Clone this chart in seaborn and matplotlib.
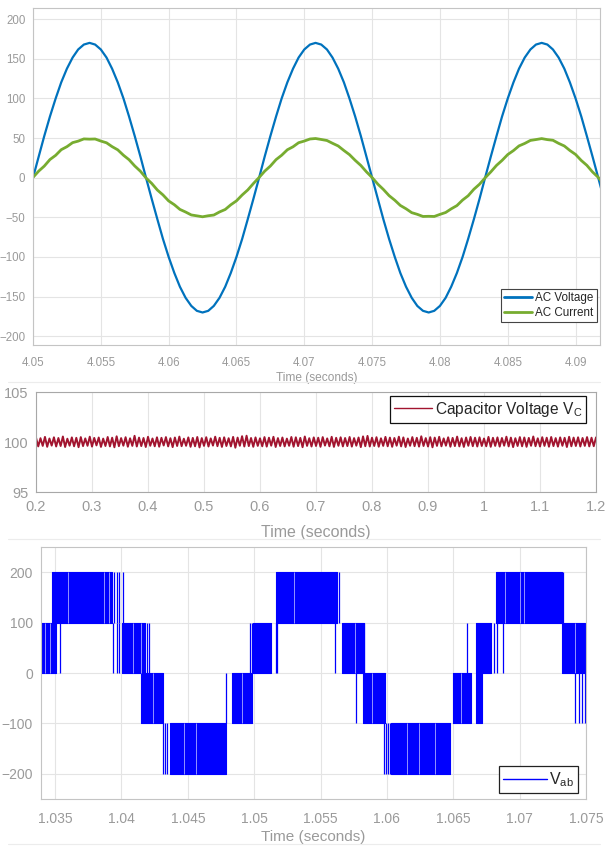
import numpy as np
import pandas as pd
import matplotlib
matplotlib.use("Agg")
import matplotlib.pyplot as plt
from matplotlib.lines import Line2D
import seaborn as sns

# ---------------- data: panel 1 (AC voltage / current) ----------------
ac_time = [
    4.05000, 4.05042, 4.05083, 4.05125, 4.05167, 4.05208, 4.05250, 4.05292, 4.05333, 4.05375,
    4.05417, 4.05458, 4.05500, 4.05542, 4.05583, 4.05625, 4.05667, 4.05708, 4.05750, 4.05792,
    4.05833, 4.05875, 4.05917, 4.05958, 4.06000, 4.06042, 4.06083, 4.06125, 4.06167, 4.06208,
    4.06250, 4.06292, 4.06333, 4.06375, 4.06417, 4.06458, 4.06500, 4.06542, 4.06583, 4.06625,
    4.06667, 4.06708, 4.06750, 4.06792, 4.06833, 4.06875, 4.06917, 4.06958, 4.07000, 4.07042,
    4.07083, 4.07125, 4.07167, 4.07208, 4.07250, 4.07292, 4.07333, 4.07375, 4.07417, 4.07458,
    4.07500, 4.07542, 4.07583, 4.07625, 4.07667, 4.07708, 4.07750, 4.07792, 4.07833, 4.07875,
    4.07917, 4.07958, 4.08000, 4.08042, 4.08083, 4.08125, 4.08167, 4.08208, 4.08250, 4.08292,
    4.08333, 4.08375, 4.08417, 4.08458, 4.08500, 4.08542, 4.08583, 4.08625, 4.08667, 4.08708,
    4.08750, 4.08792, 4.08833, 4.08875, 4.08917, 4.08958, 4.09000, 4.09042, 4.09083, 4.09125,
    4.09167, 4.09208,
]
ac_voltage = [
    0.0, 26.6, 52.5, 77.2, 99.9, 120.2, 137.5, 151.5, 161.7, 167.9,
    170.0, 167.9, 161.7, 151.5, 137.5, 120.2, 99.9, 77.2, 52.5, 26.6,
    0.0, -26.6, -52.5, -77.2, -99.9, -120.2, -137.5, -151.5, -161.7, -167.9,
    -170.0, -167.9, -161.7, -151.5, -137.5, -120.2, -99.9, -77.2, -52.5, -26.6,
    0.0, 26.6, 52.5, 77.2, 99.9, 120.2, 137.5, 151.5, 161.7, 167.9,
    170.0, 167.9, 161.7, 151.5, 137.5, 120.2, 99.9, 77.2, 52.5, 26.6,
    0.0, -26.6, -52.5, -77.2, -99.9, -120.2, -137.5, -151.5, -161.7, -167.9,
    -170.0, -167.9, -161.7, -151.5, -137.5, -120.2, -99.9, -77.2, -52.5, -26.6,
    0.0, 26.6, 52.5, 77.2, 99.9, 120.2, 137.5, 151.5, 161.7, 167.9,
    170.0, 167.9, 161.7, 151.5, 137.5, 120.2, 99.9, 77.2, 52.5, 26.6,
    0.0, -26.6,
]
ac_current = [
    0.4, 8.3, 14.6, 22.9, 28.2, 35.3, 39.1, 44.2, 46.1, 48.9,
    48.6, 48.8, 46.2, 44.0, 39.2, 35.1, 28.3, 22.7, 14.8, 8.1,
    -0.3, -7.2, -15.6, -21.7, -29.3, -34.1, -40.0, -43.3, -47.0, -48.1,
    -49.3, -48.0, -47.1, -43.2, -40.1, -34.2, -29.2, -21.8, -15.5, -7.3,
    0.3, 8.2, 14.7, 22.8, 28.3, 35.2, 39.0, 44.1, 46.2, 48.8,
    49.4, 48.2, 46.9, 43.4, 40.0, 34.3, 29.1, 21.9, 15.4, 7.4,
    0.2, -8.1, -14.8, -22.6, -28.4, -35.0, -39.2, -44.1, -46.2, -48.9,
    -48.7, -48.9, -46.3, -43.9, -39.3, -35.2, -28.2, -22.8, -14.6, -8.2,
    -0.2, 7.3, 15.5, 21.8, 29.2, 34.2, 40.1, 43.2, 47.0, 48.1,
    49.3, 48.0, 47.2, 43.3, 40.0, 34.3, 29.3, 21.7, 15.6, 7.2,
    0.4, -8.0,
]
ac_xticks = [4.05, 4.055, 4.06, 4.065, 4.07, 4.075, 4.08, 4.085, 4.09]
ac_xticklabels = ["4.05", "4.055", "4.06", "4.065", "4.07", "4.075", "4.08", "4.085", "4.09"]
ac_yticks = [-200, -150, -100, -50, 0, 50, 100, 150, 200]

# ---------------- data: panel 2 (capacitor voltage) ----------------
cap_time = [
    0.200, 0.204, 0.208, 0.212, 0.216, 0.220, 0.224, 0.228, 0.232, 0.236,
    0.240, 0.244, 0.248, 0.252, 0.256, 0.260, 0.264, 0.268, 0.272, 0.276,
    0.280, 0.284, 0.288, 0.292, 0.296, 0.300, 0.304, 0.308, 0.312, 0.316,
    0.320, 0.324, 0.328, 0.332, 0.336, 0.340, 0.344, 0.348, 0.352, 0.356,
    0.360, 0.364, 0.368, 0.372, 0.376, 0.380, 0.384, 0.388, 0.392, 0.396,
    0.400, 0.404, 0.408, 0.412, 0.416, 0.420, 0.424, 0.428, 0.432, 0.436,
    0.440, 0.444, 0.448, 0.452, 0.456, 0.460, 0.464, 0.468, 0.472, 0.476,
    0.480, 0.484, 0.488, 0.492, 0.496, 0.500, 0.504, 0.508, 0.512, 0.516,
    0.520, 0.524, 0.528, 0.532, 0.536, 0.540, 0.544, 0.548, 0.552, 0.556,
    0.560, 0.564, 0.568, 0.572, 0.576, 0.580, 0.584, 0.588, 0.592, 0.596,
    0.600, 0.604, 0.608, 0.612, 0.616, 0.620, 0.624, 0.628, 0.632, 0.636,
    0.640, 0.644, 0.648, 0.652, 0.656, 0.660, 0.664, 0.668, 0.672, 0.676,
    0.680, 0.684, 0.688, 0.692, 0.696, 0.700, 0.704, 0.708, 0.712, 0.716,
    0.720, 0.724, 0.728, 0.732, 0.736, 0.740, 0.744, 0.748, 0.752, 0.756,
    0.760, 0.764, 0.768, 0.772, 0.776, 0.780, 0.784, 0.788, 0.792, 0.796,
    0.800, 0.804, 0.808, 0.812, 0.816, 0.820, 0.824, 0.828, 0.832, 0.836,
    0.840, 0.844, 0.848, 0.852, 0.856, 0.860, 0.864, 0.868, 0.872, 0.876,
    0.880, 0.884, 0.888, 0.892, 0.896, 0.900, 0.904, 0.908, 0.912, 0.916,
    0.920, 0.924, 0.928, 0.932, 0.936, 0.940, 0.944, 0.948, 0.952, 0.956,
    0.960, 0.964, 0.968, 0.972, 0.976, 0.980, 0.984, 0.988, 0.992, 0.996,
    1.000, 1.004, 1.008, 1.012, 1.016, 1.020, 1.024, 1.028, 1.032, 1.036,
    1.040, 1.044, 1.048, 1.052, 1.056, 1.060, 1.064, 1.068, 1.072, 1.076,
    1.080, 1.084, 1.088, 1.092, 1.096, 1.100, 1.104, 1.108, 1.112, 1.116,
    1.120, 1.124, 1.128, 1.132, 1.136, 1.140, 1.144, 1.148, 1.152, 1.156,
    1.160, 1.164, 1.168, 1.172, 1.176, 1.180, 1.184, 1.188, 1.192, 1.196,
    1.200,
]
cap_voltage = [
    100.44, 99.56, 100.38, 99.61, 100.51, 99.52, 100.35, 99.64, 100.47, 99.55,
    100.40, 99.60, 100.55, 99.50, 100.33, 99.63, 100.46, 99.57, 100.42, 99.48,
    100.49, 99.59, 100.36, 99.62, 100.53, 99.54, 100.41, 99.66, 100.45, 99.51,
    100.34, 99.60, 100.50, 99.56, 100.43, 99.47, 100.57, 99.58, 100.39, 99.63,
    100.48, 99.53, 100.37, 99.61, 100.62, 99.55, 100.44, 99.59, 100.40, 99.50,
    100.52, 99.62, 100.35, 99.57, 100.47, 99.53, 100.42, 99.65, 100.49, 99.56,
    100.38, 99.49, 100.45, 99.60, 100.54, 99.58, 100.33, 99.62, 100.46, 99.52,
    100.41, 99.57, 100.50, 99.46, 100.39, 99.61, 100.48, 99.55, 100.36, 99.64,
    100.53, 99.58, 100.42, 99.51, 100.47, 99.60, 100.38, 99.56, 100.51, 99.43,
    100.44, 99.62, 100.58, 99.55, 100.63, 99.59, 100.40, 99.52, 100.46, 99.61,
    100.37, 99.57, 100.49, 99.54, 100.43, 99.63, 100.52, 99.50, 100.39, 99.60,
    100.45, 99.56, 100.34, 99.62, 100.50, 99.53, 100.47, 99.59, 100.41, 99.48,
    100.55, 99.61, 100.38, 99.55, 100.46, 99.60, 100.43, 99.52, 100.49, 99.64,
    100.36, 99.57, 100.52, 99.51, 100.42, 99.62, 100.47, 99.56, 100.40, 99.59,
    100.50, 99.54, 100.39, 99.63, 100.45, 99.49, 100.56, 99.58, 100.61, 99.55,
    100.43, 99.60, 100.48, 99.53, 100.37, 99.61, 100.51, 99.57, 100.44, 99.52,
    100.40, 99.63, 100.53, 99.56, 100.46, 99.50, 100.35, 99.62, 100.49, 99.58,
    100.42, 99.54, 100.57, 99.60, 100.39, 99.55, 100.48, 99.47, 100.44, 99.61,
    100.52, 99.57, 100.36, 99.63, 100.47, 99.53, 100.41, 99.59, 100.54, 99.56,
    100.38, 99.51, 100.45, 99.62, 100.50, 99.58, 100.43, 99.55, 100.47, 99.60,
    100.35, 99.57, 100.51, 99.52, 100.42, 99.61, 100.46, 99.54, 100.40, 99.63,
    100.53, 99.56, 100.44, 99.49, 100.38, 99.60, 100.49, 99.57, 100.45, 99.52,
    100.41, 99.62, 100.55, 99.58, 100.37, 99.55, 100.48, 99.61, 100.43, 99.53,
    100.50, 99.59, 100.39, 99.54, 100.46, 99.62, 100.42, 99.50, 100.52, 99.57,
    100.44, 99.60, 100.47, 99.55, 100.40, 99.61, 100.49, 99.56, 100.43, 99.58,
    100.46,
]
cap_xticks = [0.2, 0.3, 0.4, 0.5, 0.6, 0.7, 0.8, 0.9, 1.0, 1.1, 1.2]
cap_xticklabels = ["0.2", "0.3", "0.4", "0.5", "0.6", "0.7", "0.8", "0.9", "1", "1.1", "1.2"]
cap_yticks = [95, 100, 105]

# ---------------- data: panel 3 (line voltage Vab, PWM levels) ----------------
# dense switching bands: start time, end time, lower level, upper level
vab_band_start = [1.03390, 1.03476, 1.04001, 1.04144, 1.04364, 1.04834, 1.04990, 1.05168,
                  1.05665, 1.05820, 1.06034, 1.06498, 1.06674, 1.06674, 1.06825, 1.07322]
vab_band_end = [1.03506, 1.03928, 1.04176, 1.04314, 1.04791, 1.04984, 1.05130, 1.05624,
                1.05825, 1.05989, 1.06473, 1.06636, 1.06716, 1.06787, 1.07322, 1.07490]
vab_band_low = [0, 100, 0, -100, -200, -100, 0, 100, 0, -100, -200, -100, -100, 0, 100, 0]
vab_band_high = [100, 200, 100, 0, -100, 0, 100, 200, 100, 0, -100, 0, 0, 100, 200, 100]
# isolated switching pulses: time, lower level, upper level
vab_pulse_time = [1.03536, 1.03933, 1.03945, 1.03965, 1.03968, 1.03983, 1.03983, 1.04008,
                  1.04194, 1.04209, 1.04312, 1.04325, 1.04345, 1.04790, 1.04972, 1.04984,
                  1.05168, 1.05175, 1.05607, 1.05639, 1.05765, 1.05808, 1.05825, 1.05975,
                  1.05990, 1.06005, 1.06020, 1.06606, 1.06804, 1.06829, 1.06874, 1.07330,
                  1.07419, 1.07444, 1.07472, 1.07490]
vab_pulse_low = [0, 0, 100, 100, 0, 0, 100, 100,
                 0, 0, -200, -200, -200, -100, 0, 0,
                 0, 0, 0, 100, -100, 0, 0, -200,
                 -200, -200, -200, 0, 0, 0, 0, 100,
                 -100, -100, -100, -100]
vab_pulse_high = [100, 100, 200, 200, 100, 100, 200, 200,
                  100, 100, -100, -100, -100, 0, 100, 100,
                  100, 100, 100, 200, 0, 100, 100, -100,
                  -100, -100, -100, 100, 100, 100, 100, 200,
                  0, 0, 0, 0]
# short intervals inside the dense bands where the level does not switch
vab_gap_time = [1.03425, 1.03462, 1.03600, 1.03870, 1.03905, 1.04085, 1.04150, 1.04240,
                1.04470, 1.04560, 1.04905, 1.05300, 1.05760, 1.05890, 1.06150, 1.06245,
                1.06360, 1.06560, 1.06890, 1.07000, 1.07030, 1.07420]
vab_gap_low = [0, 0, 100, 100, 100, 0, 0, -100,
               -200, -200, -100, 100, 0, -100, -200, -200,
               -200, -100, 100, 100, 100, 0]
vab_gap_high = [100, 100, 200, 200, 200, 100, 100, 0,
                -100, -100, 0, 200, 100, 0, -100, -100,
                -100, 0, 200, 200, 200, 100]
vab_xticks = [1.035, 1.04, 1.045, 1.05, 1.055, 1.06, 1.065, 1.07, 1.075]
vab_xticklabels = ["1.035", "1.04", "1.045", "1.05", "1.055", "1.06", "1.065", "1.07", "1.075"]
vab_yticks = [-200, -100, 0, 100, 200]

# ---------------- style ----------------
sns.set_theme(style="whitegrid")
plt.rcParams["font.family"] = ["Liberation Sans", "DejaVu Sans"]
plt.rcParams["mathtext.fontset"] = "custom"
plt.rcParams["mathtext.rm"] = "Liberation Sans"
plt.rcParams["mathtext.it"] = "Liberation Sans"

TICK_C = "#9a9a9a"
GRID_C = "#e4e4e4"
SPINE_C = "#c4c4c4"

fig = plt.figure(figsize=(6.05, 8.46), dpi=100)
W, H = 605.0, 846.0


def box(l, t, r, b):
    return [l / W, (H - b) / H, (r - l) / W, (b - t) / H]


def style_axes(ax, fs, xpad=3, ypad=3):
    ax.set_facecolor("white")
    ax.grid(True, color=GRID_C, linewidth=0.8)
    ax.set_axisbelow(True)
    for s in ax.spines.values():
        s.set_color(SPINE_C)
        s.set_linewidth(0.8)
        s.set_visible(True)
    ax.tick_params(axis="both", which="major", direction="out", length=2.5, width=0.6,
                   color=SPINE_C, labelcolor=TICK_C, labelsize=fs)
    ax.tick_params(axis="x", pad=xpad)
    ax.tick_params(axis="y", pad=ypad)


# ---- panel 1
ax1 = fig.add_axes(box(33, 8, 600, 345))
df_ac = pd.DataFrame({"t": ac_time, "AC Voltage": ac_voltage, "AC Current": ac_current})
sns.lineplot(data=df_ac, x="t", y="AC Voltage", ax=ax1, color="#0072BD", linewidth=1.6,
             label="AC Voltage", sort=False)
sns.lineplot(data=df_ac, x="t", y="AC Current", ax=ax1, color="#77AC30", linewidth=2.0,
             label="AC Current", sort=False)
ax1.set_xlim(4.05, 4.0918)
ax1.set_ylim(-211, 214)
ax1.set_xticks(ac_xticks)
ax1.set_xticklabels(ac_xticklabels)
ax1.set_yticks(ac_yticks)
style_axes(ax1, 8.3, xpad=6)
ax1.set_xlabel("Time (seconds)", fontsize=8.6, color=TICK_C, labelpad=2)
ax1.set_ylabel("")
leg1 = ax1.legend(loc="lower right", bbox_to_anchor=(0.995, 0.068), borderaxespad=0,
                  fontsize=8.4, frameon=True, fancybox=False, framealpha=1,
                  edgecolor="#444444", handlelength=2.4, handletextpad=0.25,
                  borderpad=0.3, labelspacing=0.2)
leg1.get_frame().set_linewidth(0.8)
for h in leg1.get_lines():
    h.set_linewidth(2.0)

# ---- panel 2
ax2 = fig.add_axes(box(36, 392, 596, 492))
df_cap = pd.DataFrame({"t": cap_time, "v": cap_voltage})
sns.lineplot(data=df_cap, x="t", y="v", ax=ax2, color="#A2142F", linewidth=1.4,
             label=r"Capacitor Voltage V$_{\mathrm{C}}$", sort=False)
ax2.set_xlim(0.2, 1.2)
ax2.set_ylim(95, 105)
ax2.set_xticks(cap_xticks)
ax2.set_xticklabels(cap_xticklabels)
ax2.set_yticks(cap_yticks)
style_axes(ax2, 10.5, xpad=3)
for s in ax2.spines.values():
    s.set_color("#a8a8a8")
ax2.set_xlabel("Time (seconds)", fontsize=11.5, color=TICK_C, labelpad=8)
ax2.set_ylabel("")
leg2 = ax2.legend(loc="upper right", bbox_to_anchor=(0.982, 0.96), borderaxespad=0,
                  fontsize=11.2, frameon=True, fancybox=False, framealpha=1,
                  edgecolor="#111111", handlelength=2.4, handletextpad=0.2,
                  borderpad=0.25)
leg2.get_frame().set_linewidth(0.9)
for h in leg2.get_lines():
    h.set_linewidth(1.0)

# ---- panel 3
ax3 = fig.add_axes(box(40.5, 547, 586, 799))
VAB_C = "#0000FF"
for t0, t1, lo, hi in zip(vab_band_start, vab_band_end, vab_band_low, vab_band_high):
    ax3.fill_between([t0, t1], [lo, lo], [hi, hi], color=VAB_C, linewidth=0.8,
                     edgecolor=VAB_C)
ax3.vlines(vab_gap_time, vab_gap_low, vab_gap_high, color="white", linewidth=0.5,
           alpha=0.8)
ax3.vlines(vab_pulse_time, vab_pulse_low, vab_pulse_high, color=VAB_C, linewidth=0.9)
ax3.set_xlim(1.0339, 1.075)
ax3.set_ylim(-250, 250)
ax3.set_xticks(vab_xticks)
ax3.set_xticklabels(vab_xticklabels)
ax3.set_yticks(vab_yticks)
style_axes(ax3, 10, xpad=7)
ax3.set_xlabel("Time (seconds)", fontsize=11, color=TICK_C, labelpad=3)
ax3.set_ylabel("")
leg3 = ax3.legend(handles=[Line2D([], [], color=VAB_C, linewidth=1.0)],
                  labels=[r"V$_{\mathrm{ab}}$"],
                  loc="lower right", bbox_to_anchor=(0.985, 0.024), borderaxespad=0,
                  fontsize=11.5, frameon=True, fancybox=False, framealpha=1,
                  edgecolor="#222222", handlelength=2.8, handletextpad=0.1,
                  borderpad=0.25)
leg3.get_frame().set_linewidth(0.9)

# faint separators between the stacked figures
for yy in (382, 539, 844):
    fig.add_artist(Line2D([8 / W, 600 / W], [(H - yy) / H, (H - yy) / H],
                          color="#ececec", linewidth=0.8))

fig.savefig("out.png", dpi=100, facecolor="white")
